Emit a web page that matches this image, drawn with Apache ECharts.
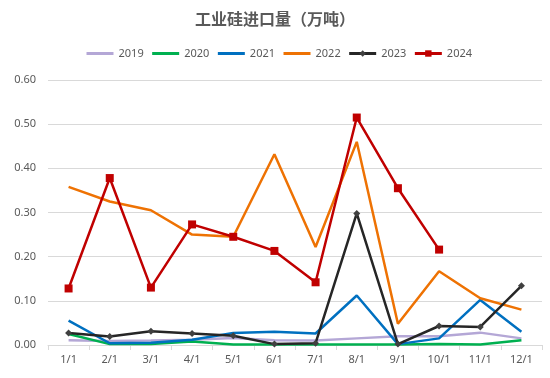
<!DOCTYPE html>
<html>
<head>
<meta charset="utf-8">
<script src="https://cdn.jsdelivr.net/npm/echarts@6/dist/echarts.min.js"></script>
<style>
  html, body { margin: 0; padding: 0; background: #fff; }
  #main { width: 550px; height: 378px; }
</style>
</head>
<body>
<div id="main"></div>
<script>
// categories (month)
const months = ['1/1', '2/1', '3/1', '4/1', '5/1', '6/1', '7/1', '8/1', '9/1', '10/1', '11/1', '12/1'];

// imports, 10k tonnes
const y2019 = [0.011, 0.009, 0.010, 0.012, 0.016, 0.011, 0.010, 0.015, 0.020, 0.020, 0.028, 0.015];
const y2020 = [0.025, 0.002, 0.002, 0.008, 0.001, 0.001, 0.001, 0.001, 0.001, 0.002, 0.001, 0.011];
const y2021 = [0.055, 0.004, 0.005, 0.012, 0.027, 0.030, 0.026, 0.112, 0.002, 0.015, 0.102, 0.030];
const y2022 = [0.358, 0.325, 0.305, 0.250, 0.245, 0.432, 0.222, 0.460, 0.048, 0.167, 0.106, 0.080];
const y2023 = [0.027, 0.019, 0.031, 0.026, 0.021, 0.002, 0.004, 0.298, 0.002, 0.043, 0.041, 0.134];
const y2024 = [0.128, 0.378, 0.130, 0.273, 0.245, 0.213, 0.142, 0.515, 0.355, 0.216];

const yTicks = { min: 0, max: 0.6, interval: 0.1 };

const chartDom = document.getElementById('main');
const myChart = echarts.init(chartDom);

const lineW = 2.5;
// plain line in legend, no marker
const noMark = { color: 'transparent', borderWidth: 0 };

const option = {
  animation: false,
  title: {
    text: '工业硅进口量（万吨）',
    left: 'center',
    top: 6,
    textStyle: { fontFamily: 'Noto Sans CJK SC', fontSize: 16, fontWeight: 'bold', color: '#595959' }
  },
  legend: {
    top: 43,
    left: 80,
    itemWidth: 27,
    itemHeight: 8,
    itemGap: 7,
    lineStyle: { width: 3 },
    textStyle: { fontFamily: 'Noto Sans', fontSize: 11, color: '#595959' },
    data: [
      { name: '2019', itemStyle: noMark },
      { name: '2020', itemStyle: noMark },
      { name: '2021', itemStyle: noMark },
      { name: '2022', itemStyle: noMark },
      '2023',
      '2024'
    ]
  },
  grid: { left: 48, right: 8, top: 80, bottom: 33 },
  xAxis: {
    type: 'category',
    data: months,
    boundaryGap: true,
    axisLine: { lineStyle: { color: '#d9d9d9' } },
    axisTick: { show: true, lineStyle: { color: '#d9d9d9' } },
    axisLabel: { fontFamily: 'Noto Sans', fontSize: 11, color: '#595959', margin: 9 }
  },
  yAxis: {
    type: 'value',
    min: yTicks.min,
    max: yTicks.max,
    interval: yTicks.interval,
    axisLine: { show: false },
    axisTick: { show: false },
    splitLine: { lineStyle: { color: '#d9d9d9' } },
    axisLabel: {
      fontFamily: 'Noto Sans', fontSize: 11, color: '#595959', margin: 12,
      formatter: v => v.toFixed(2)
    }
  },
  series: [
    {
      name: '2019', type: 'line', data: y2019, symbol: 'none',
      itemStyle: { color: '#b4a7d6' }, lineStyle: { width: lineW, color: '#b4a7d6' }
    },
    {
      name: '2020', type: 'line', data: y2020, symbol: 'none',
      itemStyle: { color: '#00b050' }, lineStyle: { width: lineW, color: '#00b050' }
    },
    {
      name: '2021', type: 'line', data: y2021, symbol: 'none',
      itemStyle: { color: '#0070c0' }, lineStyle: { width: lineW, color: '#0070c0' }
    },
    {
      name: '2022', type: 'line', data: y2022, symbol: 'none',
      itemStyle: { color: '#ee7203' }, lineStyle: { width: lineW, color: '#ee7203' }
    },
    {
      name: '2023', type: 'line', data: y2023, symbol: 'diamond', symbolSize: 7,
      itemStyle: { color: '#404040' }, lineStyle: { width: lineW, color: '#262626' }
    },
    {
      name: '2024', type: 'line', data: y2024, symbol: 'rect', symbolSize: 8,
      itemStyle: { color: '#c00000' }, lineStyle: { width: lineW, color: '#c00000' }
    }
  ]
};

option && myChart.setOption(option);
</script>
</body>
</html>
